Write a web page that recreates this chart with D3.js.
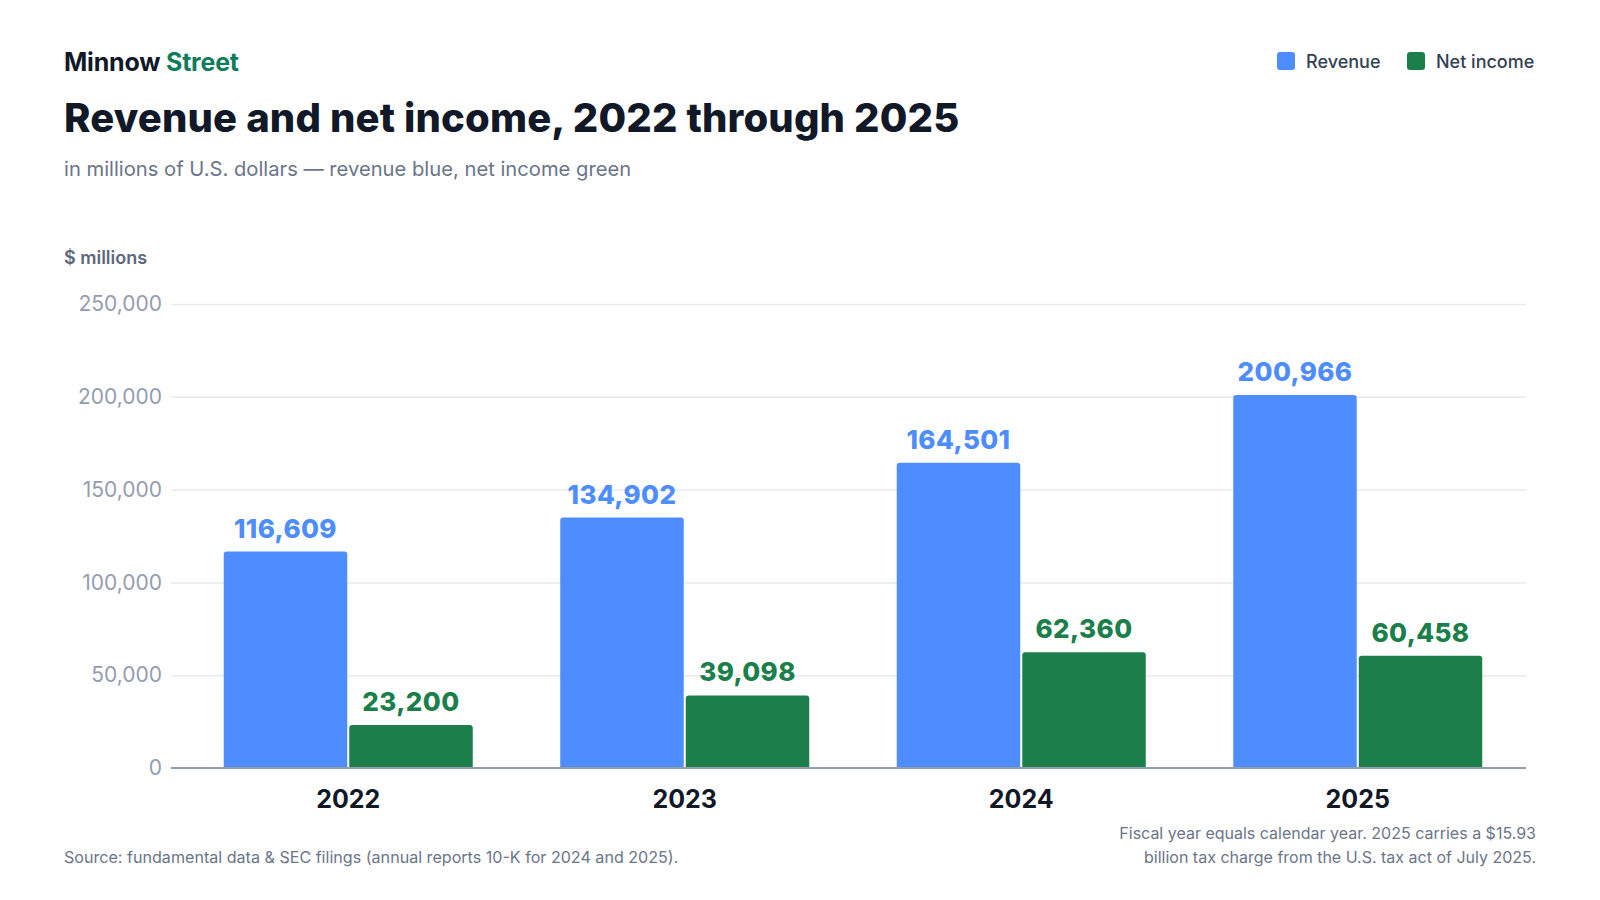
<!DOCTYPE html>
<html>
<head>
<meta charset="utf-8">
<script src="https://cdn.jsdelivr.net/npm/d3@7"></script>
<style>
  html, body { margin: 0; padding: 0; background: #fff; }
  svg { display: block; font-family: Inter, "Noto Sans", sans-serif; }
</style>
</head>
<body>
<script>
var years = ["2022", "2023", "2024", "2025"];
var seriesKeys = ["Revenue", "Net income"];
var revenue = [116609, 134902, 164501, 200966];
var netIncome = [23200, 39098, 62360, 60458];
var yTicks = [0, 50000, 100000, 150000, 200000, 250000];

var colors = { "Revenue": "#4d8dff", "Net income": "#1c7f4b" };
var labelColors = { "Revenue": "#4d8dff", "Net income": "#1c7f4b" };

var width = 1600, height = 900;
var plot = { left: 171, right: 1526, top: 304, bottom: 768 };

var rows = years.map(function(y, i) {
  return { year: y, values: [
    { key: "Revenue", value: revenue[i] },
    { key: "Net income", value: netIncome[i] }
  ] };
});

var svg = d3.select("body").append("svg")
  .attr("width", width)
  .attr("height", height);

// header
svg.append("text")
  .attr("x", 64).attr("y", 71)
  .attr("font-size", 25).attr("font-weight", 700)
  .attr("letter-spacing", "-0.2")
  .attr("fill", "#111827")
  .text("Minnow ")
  .append("tspan").attr("fill", "#0f7d5c").text("Street");

svg.append("text")
  .attr("x", 64).attr("y", 132)
  .attr("font-size", 40).attr("font-weight", 800)
  .attr("letter-spacing", "0.15")
  .attr("fill", "#111827")
  .text("Revenue and net income, 2022 through 2025");

svg.append("text")
  .attr("x", 64).attr("y", 176)
  .attr("font-size", 20.2).attr("font-weight", 400)
  .attr("fill", "#6b7589")
  .text("in millions of U.S. dollars \u2014 revenue blue, net income green");

// legend
var legend = svg.append("g");
var lx = [1277, 1407];
seriesKeys.forEach(function(k, i) {
  legend.append("rect")
    .attr("x", lx[i]).attr("y", 52)
    .attr("width", 18).attr("height", 18)
    .attr("rx", 3)
    .attr("fill", colors[k]);
  legend.append("text")
    .attr("x", lx[i] + 29).attr("y", 68)
    .attr("font-size", 18).attr("font-weight", 500)
    .attr("fill", "#334155")
    .text(k);
});

svg.append("text")
  .attr("x", 64).attr("y", 264)
  .attr("font-size", 18).attr("font-weight", 600)
  .attr("fill", "#5d677a")
  .text("$ millions");

// scales
var x0 = d3.scaleBand()
  .domain(years)
  .range([180, plot.right])
  .paddingInner(0.26)
  .paddingOuter(0.13);

var x1 = d3.scaleBand()
  .domain(seriesKeys)
  .range([0, x0.bandwidth()])
  .paddingInner(0.016);

var y = d3.scaleLinear()
  .domain([0, 250000])
  .range([plot.bottom, plot.top]);

// grid + y labels
var yAxis = svg.append("g")
  .attr("transform", "translate(" + plot.left + ",0)")
  .call(d3.axisLeft(y)
    .tickValues(yTicks)
    .tickSize(-(plot.right - plot.left))
    .tickPadding(9)
    .tickFormat(d3.format(",")));
yAxis.select(".domain").remove();
yAxis.selectAll(".tick line")
  .attr("stroke", "#e8eaee")
  .attr("stroke-width", 1.5);
yAxis.selectAll(".tick text")
  .attr("font-family", "Inter, sans-serif")
  .attr("font-size", 21)
  .attr("fill", "#949db0");

// bars
function topRounded(x, yTop, w, h, r) {
  r = Math.min(r, h, w / 2);
  return "M" + x + "," + (yTop + h) +
    "V" + (yTop + r) +
    "Q" + x + "," + yTop + " " + (x + r) + "," + yTop +
    "H" + (x + w - r) +
    "Q" + (x + w) + "," + yTop + " " + (x + w) + "," + (yTop + r) +
    "V" + (yTop + h) + "Z";
}

var group = svg.selectAll(".year")
  .data(rows)
  .enter().append("g")
  .attr("class", "year")
  .attr("transform", function(d) { return "translate(" + x0(d.year) + ",0)"; });

group.selectAll("path")
  .data(function(d) { return d.values; })
  .enter().append("path")
  .attr("fill", function(d) { return colors[d.key]; })
  .attr("d", function(d) {
    return topRounded(x1(d.key), y(d.value), x1.bandwidth(), y(0) - y(d.value), 3);
  });

group.selectAll(".val")
  .data(function(d) { return d.values; })
  .enter().append("text")
  .attr("class", "val")
  .attr("x", function(d) { return x1(d.key) + x1.bandwidth() / 2; })
  .attr("y", function(d) { return y(d.value) - 14; })
  .attr("text-anchor", "middle")
  .attr("font-size", 26).attr("font-weight", 800)
  .attr("letter-spacing", "0.4")
  .attr("fill", function(d) { return labelColors[d.key]; })
  .text(function(d) { return d3.format(",")(d.value); });

// x axis
var xAxis = svg.append("g")
  .attr("transform", "translate(0," + plot.bottom + ")")
  .call(d3.axisBottom(x0).tickSize(0).tickPadding(0));
xAxis.select(".domain").remove();
xAxis.selectAll(".tick text")
  .attr("font-family", "Inter, sans-serif")
  .attr("font-size", 25).attr("font-weight", 700)
  .attr("fill", "#111827")
  .attr("y", 40)
  .attr("dy", 0);

svg.append("line")
  .attr("x1", plot.left).attr("x2", plot.right)
  .attr("y1", plot.bottom).attr("y2", plot.bottom)
  .attr("stroke", "#949db0").attr("stroke-width", 2);

// footer
svg.append("text")
  .attr("x", 64).attr("y", 863)
  .attr("font-size", 16.1)
  .attr("fill", "#6b7589")
  .text("Source: fundamental data & SEC filings (annual reports 10-K for 2024 and 2025).");

var note = svg.append("text")
  .attr("text-anchor", "end")
  .attr("font-size", 16)
  .attr("fill", "#6b7589");
note.append("tspan").attr("x", 1536).attr("y", 839)
  .text("Fiscal year equals calendar year. 2025 carries a $15.93");
note.append("tspan").attr("x", 1536).attr("y", 863)
  .text("billion tax charge from the U.S. tax act of July 2025.");
</script>
</body>
</html>
